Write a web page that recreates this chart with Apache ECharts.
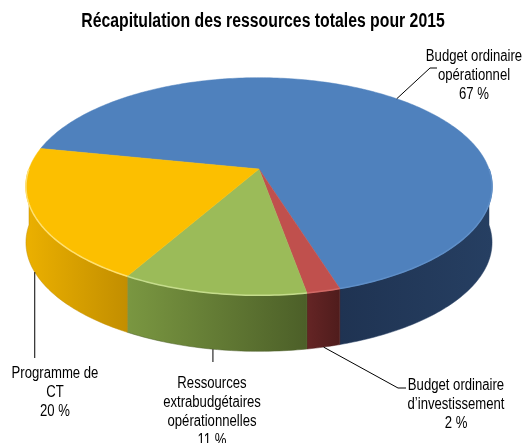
<!DOCTYPE html>
<html>
<head>
<meta charset="utf-8">
<script src="https://cdn.jsdelivr.net/npm/echarts@6/dist/echarts.min.js"></script>
<style>
  html, body { margin: 0; padding: 0; background: #fff; }
  #chart { width: 527px; height: 443px; }
</style>
</head>
<body>
<div id="chart"></div>
<script>
const categories = [
    'Budget ordinaire opérationnel',
    'Budget ordinaire d’investissement',
    'Ressources extrabudgétaires opérationnelles',
    'Programme de CT'
];
const values = [67, 2, 11, 20];
const labelLines = [
    ['Budget ordinaire', 'opérationnel'],
    ['Budget ordinaire', 'd’investissement'],
    ['Ressources', 'extrabudgétaires', 'opérationnelles'],
    ['Programme de', 'CT']
];
const titleText = 'Récapitulation des ressources totales pour 2015';

const topColors = ['#4f81bd', '#c0504d', '#9bbb59', '#fcbf00'];
const sideColors = [['#1f3352', '#263f62'], ['#652525', '#4f1c1c'], ['#7a9741', '#4c5f28'], ['#ebb000', '#c28e00']];
const rimColors = ['#5f8fc8', '#d06a66', '#c5dc8c', '#ffe070'];

// where the labels sit and how their leader lines bend
const labelLayout = [
    {x: 474, y: 47, path: [[430, 68], [437, 68]]},
    {x: 456, y: 376, path: [[398, 388], [406, 388]]},
    {x: 212, y: 374, toY: 362},
    {x: 55, y: 364, toY: 358}
];

// tilted disc (simple perspective)
const cx = 259, cy = 169, rx = 230, ry = 106, tilt = 0.161, depth = 56;
const startDeg = 191.5;
const total = values.reduce((a, b) => a + b, 0);
const FONT = '"Liberation Sans", Arial, sans-serif';
const NARROW = 0.82; // no narrow font installed, squeeze the text instead

function project(deg, drop) {
    const t = deg * Math.PI / 180;
    const u = Math.cos(t), v = Math.sin(t);
    const w = 1 - tilt * v;
    return [cx + rx * u / w, cy + ry * v / w + (drop || 0)];
}

function arc(a0, a1, drop) {
    const pts = [];
    const n = Math.max(2, Math.ceil(Math.abs(a1 - a0)));
    for (let i = 0; i <= n; i++) {
        pts.push(project(a0 + (a1 - a0) * i / n, drop));
    }
    return pts;
}

function renderItem(params, api) {
    const i = params.dataIndex;
    const before = values.slice(0, i).reduce((a, b) => a + b, 0);
    const a0 = startDeg + before / total * 360;
    const a1 = a0 + api.value(0) / total * 360;
    const children = [];

    // front wall, only where it faces the viewer
    [[0, 180], [360, 540]].forEach(([lo, hi]) => {
        const s = Math.max(a0, lo), e = Math.min(a1, hi);
        if (e <= s) return;
        const grad = new echarts.graphic.LinearGradient(0, 0, 1, 0, [
            {offset: 0, color: sideColors[i][0]},
            {offset: 1, color: sideColors[i][1]}
        ]);
        children.push({
            type: 'polygon', z2: 1,
            shape: {points: arc(s, e, 0).concat(arc(e, s, depth))},
            style: {fill: grad, stroke: sideColors[i][1], lineWidth: 0.5}
        });
        children.push({
            type: 'polyline', z2: 3,
            shape: {points: arc(s, e, 0)},
            style: {stroke: rimColors[i], lineWidth: 1.5, fill: null}
        });
    });

    children.push({
        type: 'polygon', z2: 2,
        shape: {points: [[cx, cy]].concat(arc(a0, a1, 0))},
        style: {fill: topColors[i], stroke: topColors[i], lineWidth: 0.5, lineJoin: 'round'}
    });

    // leader line and label
    const mid = (a0 + a1) / 2;
    const m = ((mid % 360) + 360) % 360;
    const anchor = project(mid, m > 0 && m < 180 ? depth : 0);
    const lay = labelLayout[i];
    const pts = [anchor].concat(lay.path ? lay.path : [[anchor[0], lay.toY]]);
    children.push({
        type: 'polyline', z2: 5,
        shape: {points: pts},
        style: {stroke: '#000', lineWidth: 1, fill: null}
    });
    children.push({
        type: 'text', z2: 5,
        x: lay.x, y: lay.y, scaleX: NARROW,
        style: {
            x: 0, y: 0,
            text: labelLines[i].concat([api.value(0) + ' %']).join('\n'),
            textAlign: 'center', textVerticalAlign: 'top',
            fontFamily: FONT, fontSize: 16, lineHeight: 19, fill: '#000'
        }
    });

    return {type: 'group', children: children};
}

const chart = echarts.init(document.getElementById('chart'));
chart.setOption({
    animation: false,
    graphic: [{
        type: 'text',
        x: 263, y: 11, scaleX: 0.79,
        style: {
            text: titleText,
            textAlign: 'center', textVerticalAlign: 'top',
            fontFamily: FONT, fontSize: 20, fontWeight: 'bold', fill: '#000'
        }
    }],
    series: [{
        type: 'custom',
        name: 'Ressources',
        coordinateSystem: 'none',
        silent: true,
        renderItem: renderItem,
        data: values.map((v, i) => ({name: categories[i], value: v}))
    }]
});
</script>
</body>
</html>
